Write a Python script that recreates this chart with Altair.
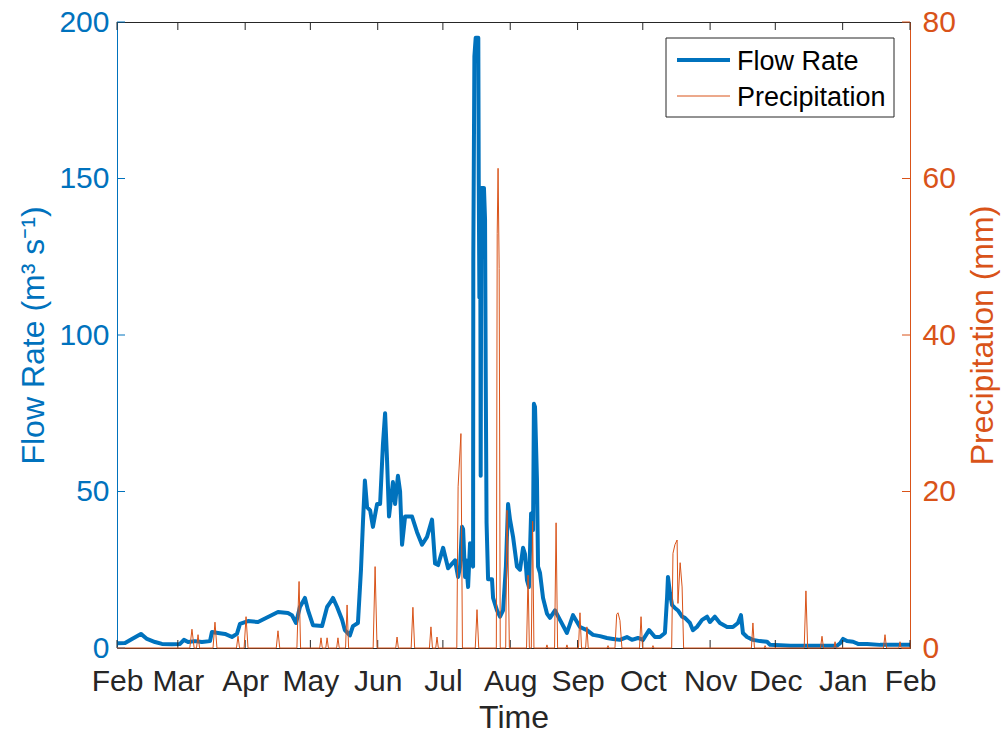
import altair as alt
import pandas as pd

# Daily-resolution river flow and rainfall, Feb 2018 - Feb 2019
START = pd.Timestamp("2018-02-01")

# Flow rate (m3/s) sampled at day offsets from START
flow_day = [
    0, 3.7, 6.9, 11.0, 13.8, 17.5, 20.7, 25.3, 29.0, 30.8, 32.7, 35.9, 39.1, 42.8,
    43.7, 46.5, 49.7, 52.9, 55.2, 56.6, 60.3, 64.9, 69.5, 74.1, 78.7, 80.5, 82.4,
    84.2, 86.5, 87.9, 90.2, 94.4, 96.7, 98.0, 99.4, 101.3, 103.6, 104.9, 107.2,
    108.6, 110.9, 112.3, 113.2, 114.1, 115.1, 116.5, 117.8, 119.7, 121.1, 122.4,
    123.4, 124.3, 125.2, 127.0, 128.0, 129.3, 130.3, 131.2, 132.6, 135.8, 138.1,
    140.4, 142.7, 145.0, 146.4, 147.8, 150.1, 152.4, 155.6, 157.0, 157.9, 158.8,
    159.3, 160.2, 160.6, 161.6, 162.5, 163.9, 164.0, 164.5, 165.1, 166.3, 166.5,
    166.8, 167.2, 167.4, 167.7, 168.9, 169.4, 169.7, 170.1, 170.8, 172.6, 173.1,
    174.9, 176.3, 177.7, 179.0, 180.0, 180.9, 182.3, 184.1, 185.5, 186.9, 187.8,
    188.7, 189.6, 190.6, 191.5, 191.9, 192.4, 193.3, 193.8, 194.7, 196.1, 197.9,
    199.3, 201.6, 203.9, 207.1, 209.9, 213.1, 216.3, 219.1, 222.3, 225.5, 228.3,
    231.5, 234.7, 237.0, 239.8, 242.1, 244.9, 247.6, 249.9, 252.2, 253.2, 253.6,
    254.5, 255.5, 256.8, 258.2, 260.1, 261.4, 263.7, 265.1, 266.9, 269.3, 271.6,
    272.9, 275.2, 277.5, 280.8, 283.5, 285.8, 287.2, 288.1, 290.0, 292.7, 296.0,
    299.2, 300.6, 310.0, 320.0, 331.4, 332.8, 334.2, 336.0, 338.8, 341.1, 345.2,
    351.2, 363.6, 365.0,
]
flow_rate = [
    1.5, 1.6, 2.9, 4.5, 2.9, 1.9, 1.3, 1.2, 1.3, 2.6, 1.9, 2.2, 1.9, 2.2,
    5.1, 4.8, 4.5, 3.5, 4.5, 7.7, 8.6, 8.3, 9.9, 11.5, 11.2, 10.5, 8.0,
    13.1, 16.0, 12.1, 7.3, 7.0, 13.1, 14.4, 16.0, 13.1, 9.0, 5.7, 4.0,
    7.0, 8.0, 25.0, 40.0, 53.5, 45.0, 44.0, 38.7, 46.0, 46.0, 65.0,
    75.0, 60.0, 42.0, 53.0, 46.0, 55.0, 50.0, 33.0, 42.0, 42.0, 37.0,
    33.0, 35.5, 41.0, 27.0, 26.5, 32.0, 25.5, 28.0, 22.7, 26.0, 38.7,
    38.0, 22.7, 28.0, 19.5, 33.5, 26.0, 124.0, 189.0, 195.0, 195.0, 149.5,
    112.0, 132.6, 55.0, 147.0, 147.0, 137.0, 89.0, 40.0, 22.0, 22.0, 16.0,
    12.0, 10.0, 12.0, 26.0, 46.0, 41.0, 35.5, 26.0, 25.0, 32.0, 30.0,
    21.7, 19.5, 43.0, 37.7, 78.0, 77.0, 53.7, 26.0, 24.0, 16.0, 11.0,
    9.6, 12.0, 9.0, 4.8, 10.5, 6.7, 5.7, 4.2, 3.8, 3.2, 2.9,
    2.6, 3.5, 2.6, 3.2, 2.6, 5.7, 3.5, 3.5, 4.8, 16.3, 22.7,
    17.6, 13.7, 12.8, 12.0, 10.0, 9.6, 8.0, 5.7, 6.7, 9.0, 10.0,
    8.3, 10.0, 8.0, 6.7, 6.7, 8.0, 10.5, 4.8, 3.5, 2.6, 2.2,
    2.0, 1.0, 0.7, 0.7, 0.7, 1.5, 2.9, 2.2, 2.0, 1.3, 1.3,
    1.0, 1.0, 1.0,
]

# Precipitation (mm) at day offsets from START
precip_day = [
    0,
    33.5, 34.5, 35.5, 36.6, 37.3, 38.0, 44.2, 45.1, 46.0, 55.0, 55.7, 56.4,
    58.5, 59.4, 60.3, 73.3, 74.1, 74.9, 82.8, 83.3, 83.8, 84.5,
    93.3, 93.9, 94.5, 96.1, 96.7, 97.3, 101.1, 101.7, 102.3, 105.2, 105.9, 106.6,
    117.9, 118.8, 119.7, 128.3, 128.9, 129.5, 135.4, 136.2, 137.0,
    143.8, 144.5, 145.2, 146.7, 147.3, 147.9, 156.4, 157.0, 158.3, 159.0,
    164.9, 165.7, 166.5, 174.6, 175.0, 175.4, 175.9, 176.4,
    178.9, 179.5, 180.0, 180.6, 188.5, 189.2, 189.8, 190.7, 191.3, 191.9,
    197.5, 197.9, 198.3, 201.4, 202.1, 202.8, 206.7, 207.1, 207.5,
    212.4, 213.1, 213.8, 215.7, 216.3, 216.9, 225.6, 226.0, 226.4,
    229.2, 230.0, 230.6, 231.5, 232.4, 240.5, 241.2, 241.9, 246.3, 246.7, 247.1,
    255.3, 255.9, 256.8, 257.8, 258.2, 259.2, 260.1, 260.8,
    292.0, 292.7, 293.4, 297.9, 298.3, 298.7, 316.3, 317.1, 317.9,
    323.8, 324.5, 325.2, 330.0, 330.5, 331.0, 352.8, 353.5, 354.2,
    359.9, 360.4, 360.9,
    365.0,
]
precip_mm = [
    0,
    0, 2.4, 0, 0, 1.7, 0, 0, 3.3, 0, 0, 1.5, 0,
    0, 4.0, 0, 0, 2.2, 0, 0, 4.5, 8.5, 0,
    0, 1.3, 0, 0, 1.3, 0, 0, 1.3, 0, 0, 5.5, 0,
    0, 10.4, 0, 0, 1.4, 0, 0, 5.2, 0,
    0, 2.7, 0, 0, 1.4, 0, 0, 20.6, 27.4, 0,
    0, 4.9, 0, 0, 53.0, 61.3, 48.5, 0,
    0, 17.6, 12.0, 0, 0, 9.3, 0, 0, 16.2, 0,
    0, 0.4, 0, 0, 16.0, 0, 0, 0.4, 0,
    0, 4.5, 0, 0, 2.7, 0, 0, 0.3, 0,
    0, 4.3, 4.5, 3.5, 0, 0, 4.0, 0, 0, 0.3, 0,
    0, 12.1, 13.2, 13.8, 5.7, 10.9, 7.8, 0,
    0, 3.2, 0, 0, 0.3, 0, 0, 7.3, 0,
    0, 1.5, 0, 0, 0.8, 0, 0, 1.7, 0,
    0, 0.8, 0,
    0,
]

month_starts = [(2018, m) for m in range(2, 13)] + [(2019, 1), (2019, 2)]
flow_ticks = [0, 50, 100, 150, 200]
precip_ticks = [0, 20, 40, 60, 80]
legend_labels = ["Flow Rate", "Precipitation"]

BLUE = "#0072BD"
ORANGE = "#D95319"
INK = "#262626"
FONT = "Liberation Sans"
W, H = 793, 626
TICK = 8


def to_iso(days):
    stamps = START + pd.to_timedelta(days, unit="D")
    return list(stamps.strftime("%Y-%m-%dT%H:%M:%S"))


flow_df = pd.DataFrame({"date": to_iso(flow_day), "flow": flow_rate})
precip_df = pd.DataFrame({"date": to_iso(precip_day), "precip": precip_mm})
month_df = pd.DataFrame(
    {"date": [f"{y}-{m:02d}-01T00:00:00" for y, m in month_starts]}
)
flow_tick_df = pd.DataFrame({"flow": flow_ticks})
precip_tick_df = pd.DataFrame({"precip": precip_ticks})

month_vals = [alt.DateTime(year=y, month=m, date=1) for y, m in month_starts]
x_scale = alt.Scale(domain=[month_vals[0], month_vals[-1]])
flow_scale = alt.Scale(domain=[0, 200], nice=False, zero=True)
precip_scale = alt.Scale(domain=[0, 80], nice=False, zero=True)

x_axis = alt.Axis(
    title="Time",
    values=month_vals,
    format="%b",
    grid=False,
    ticks=False,
    tickSize=0,
    labelFont=FONT,
    labelFontSize=30,
    labelColor=INK,
    labelPadding=42,
    labelBaseline="alphabetic",
    labelFlush=False,
    labelOverlap=False,
    labelBound=False,
    titleFont=FONT,
    titleFontSize=32,
    titleFontWeight="normal",
    titleColor=INK,
    titleY=79,
    titleBaseline="alphabetic",
    domainColor=INK,
    domainWidth=1,
)

flow_axis = alt.Axis(
    title="Flow Rate (m³ s⁻¹)",
    orient="left",
    values=flow_ticks,
    grid=False,
    ticks=False,
    tickSize=0,
    labelFont=FONT,
    labelFontSize=30,
    labelColor=BLUE,
    labelPadding=8,
    titleFont=FONT,
    titleFontSize=32,
    titleFontWeight="normal",
    titleColor=BLUE,
    titleX=-74,
    titleBaseline="alphabetic",
    domainColor=BLUE,
    domainWidth=1,
)

precip_axis = alt.Axis(
    title="Precipitation (mm)",
    orient="right",
    values=precip_ticks,
    grid=False,
    ticks=False,
    tickSize=0,
    labelFont=FONT,
    labelFontSize=30,
    labelColor=ORANGE,
    labelPadding=12,
    titleFont=FONT,
    titleFontSize=32,
    titleFontWeight="normal",
    titleColor=ORANGE,
    titleAngle=270,
    titleX=82,
    titleBaseline="alphabetic",
    domainColor=ORANGE,
    domainWidth=1,
)

x_enc = alt.X("date:T", scale=x_scale, axis=x_axis, title="Time")
flow_enc = alt.Y("flow:Q", scale=flow_scale, axis=flow_axis, title="Flow Rate (m³ s⁻¹)")
precip_enc = alt.Y(
    "precip:Q", scale=precip_scale, axis=precip_axis, title="Precipitation (mm)"
)

# Left-axis group: flow line plus inward ticks on left, bottom and top edges
flow_line = alt.Chart(flow_df).mark_line(
    color=BLUE, strokeWidth=4, strokeJoin="round"
).encode(x=x_enc, y=flow_enc)

flow_ticks_layer = alt.Chart(flow_tick_df).mark_rule(color=BLUE, strokeWidth=1).encode(
    y=flow_enc,
    x=alt.value(0),
    x2=alt.value(TICK),
)

bottom_ticks = alt.Chart(month_df).mark_rule(color=INK, strokeWidth=1).encode(
    x=x_enc,
    y=alt.value(H - TICK),
    y2=alt.value(H),
)

top_ticks = alt.Chart(month_df).mark_rule(color=INK, strokeWidth=1).encode(
    x=x_enc,
    y=alt.value(0),
    y2=alt.value(TICK),
)

left_group = alt.layer(flow_line, flow_ticks_layer, bottom_ticks, top_ticks)

# Right-axis group: precipitation line plus its inward ticks
precip_line = alt.Chart(precip_df).mark_line(color=ORANGE, strokeWidth=1).encode(
    x=x_enc, y=precip_enc
)

precip_ticks_layer = alt.Chart(precip_tick_df).mark_rule(
    color=ORANGE, strokeWidth=1
).encode(
    y=precip_enc,
    x=alt.value(W - TICK),
    x2=alt.value(W),
)

right_group = alt.layer(precip_line, precip_ticks_layer)

# Legend box in the upper right corner
one = pd.DataFrame({"k": [0]})
legend_box = alt.Chart(one).mark_rect(
    fill="white", stroke=INK, strokeWidth=1
).encode(
    x=alt.value(549), x2=alt.value(777), y=alt.value(16), y2=alt.value(95)
)
legend_flow = alt.Chart(one).mark_rule(color=BLUE, strokeWidth=4).encode(
    x=alt.value(560), x2=alt.value(613), y=alt.value(38)
)
legend_precip = alt.Chart(one).mark_rule(color=ORANGE, strokeWidth=1).encode(
    x=alt.value(560), x2=alt.value(613), y=alt.value(74)
)
legend_text = [
    alt.Chart(one).mark_text(
        align="left", baseline="middle", font=FONT, fontSize=27, color="#000000"
    ).encode(x=alt.value(620), y=alt.value(yy), text=alt.value(label))
    for label, yy in zip(legend_labels, [40, 76])
]

chart = (
    alt.layer(left_group, right_group, legend_box, legend_flow, legend_precip, *legend_text)
    .resolve_scale(y="independent")
    .properties(
        width=W,
        height=H,
        autosize=alt.AutoSizeParams(type="none"),
        padding={"left": 117, "top": 22, "right": 93, "bottom": 87},
        background="white",
    )
    .configure_view(stroke=INK, strokeWidth=1)
)

chart.save("out.html", embed_options={"renderer": "svg", "actions": False})
